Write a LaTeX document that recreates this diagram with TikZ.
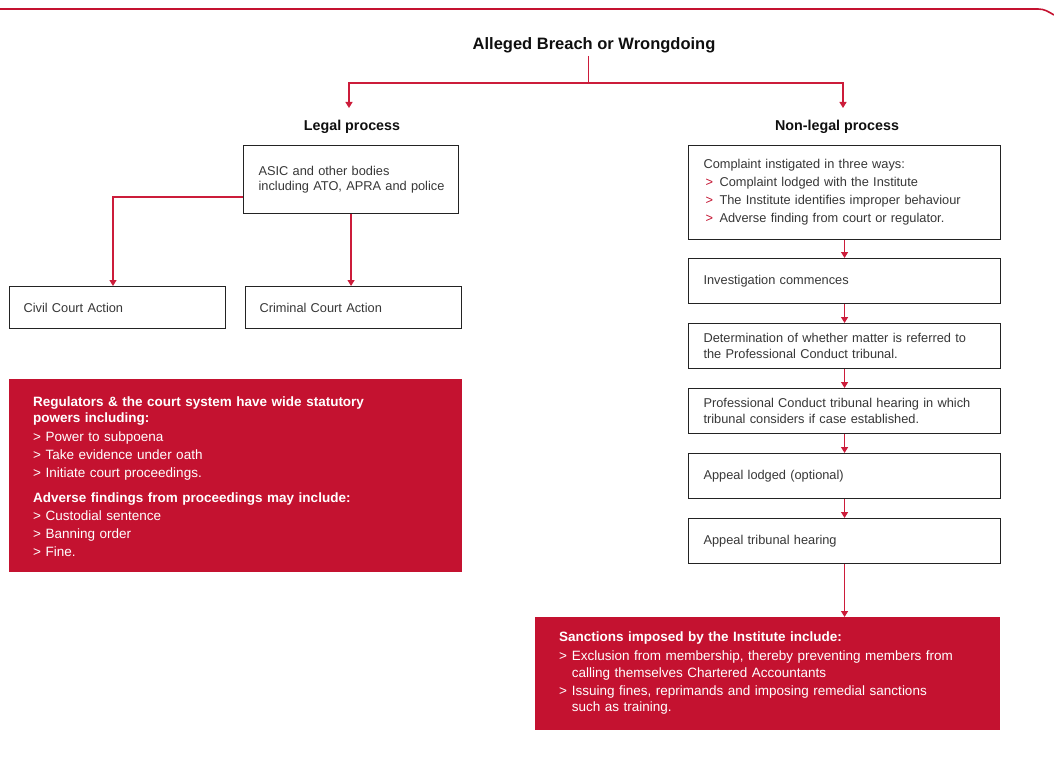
\documentclass[tikz,border=0pt]{standalone}
\usepackage{fontspec}
\setmainfont{Liberation Sans}
\usetikzlibrary{arrows.meta}
\definecolor{crim}{RGB}{196,18,48}
\definecolor{conncol}{RGB}{204,28,58}
\definecolor{boxline}{RGB}{35,35,35}
\definecolor{txt}{RGB}{55,55,55}
\definecolor{headtxt}{RGB}{15,15,15}
\begin{document}
\begin{tikzpicture}[x=1pt,y=-1pt,
  wbox/.style={draw=boxline, line width=1.1pt, fill=white, anchor=north west,
    inner xsep=15pt, inner ysep=0pt, text=txt, align=left, text width=#1,
    font=\fontsize{12.8}{16.5}\selectfont},
  redbox/.style={fill=crim, draw=none, anchor=north west, inner sep=0pt},
  redtxt/.style={anchor=north west, inner sep=0pt, text=white, align=left,
    text width=#1, font=\fontsize{13.5}{18}\selectfont},
  head/.style={font=\bfseries\fontsize{14.3}{17}\selectfont, text=headtxt, inner sep=2pt},
  conn/.style={draw=conncol, line width=1.2pt},
  arr/.style={conn, -{Triangle[width=7pt,length=6pt]}}
]
\useasboundingbox (0,0) rectangle (1054,762);

% top border line
\draw[crim, line width=1.6pt] (0,9) -- (1038,9) to[out=0,in=150] (1054,15);

% title and headers
\node[font=\bfseries\fontsize{16.5}{20}\selectfont, text=headtxt, inner sep=3pt] (title) at (594,45) {Alleged Breach or Wrongdoing};
\node[head] (lp) at (352,127) {Legal process};
\node[head] (nlp) at (837,127) {Non-legal process};

\coordinate (split) at (588,83);
\coordinate (lA) at (349,108);
\coordinate (nA) at (843,108);
\draw[conn, line width=0.9pt] (title.south -| split) -- (split);
\draw[arr] (split) -| (lA);
\draw[arr] (split) -| (nA);

% legal process
\node[wbox=185pt, minimum height=68pt, font=\fontsize{12.8}{15}\selectfont] (asic) at (243,145) {\mbox{ASIC and other bodies}\\\mbox{including ATO, APRA and police}};
\node[wbox=188pt, inner xsep=14pt, minimum height=42pt] (civil) at (9,286) {Civil Court Action};
\node[wbox=188pt, inner xsep=14pt, minimum height=42pt] (criminal) at (245,286) {Criminal Court Action};

\coordinate (civtop) at (113,286);
\draw[arr] (asic.west |- 0,197) -| (civtop);
\draw[arr] (asic.south) -- (asic.south |- criminal.north);

% regulators box
\node[redbox, minimum width=453pt, minimum height=193pt] (regbox) at (9,379) {};
\node[redtxt=420pt] (regtxt) at (33,396.5) {%
\textbf{Regulators \& the court system have wide statutory}\\[-2pt]
\textbf{powers including:}\\[1pt]
\makebox[12.5pt][l]{>}Power to subpoena\\
\makebox[12.5pt][l]{>}Take evidence under oath\\
\makebox[12.5pt][l]{>}Initiate court proceedings.\\[7pt]
\textbf{Adverse findings from proceedings may include:}\\
\makebox[12.5pt][l]{>}Custodial sentence\\
\makebox[12.5pt][l]{>}Banning order\\
\makebox[12.5pt][l]{>}Fine.};

% non-legal process
\node[wbox=282pt, minimum height=94pt, font=\fontsize{12.8}{18}\selectfont] (b1) at (688,145) {Complaint instigated in three ways:\\
\makebox[16pt][l]{\hspace{2pt}\textcolor{crim}{>}}Complaint lodged with the Institute\\
\makebox[16pt][l]{\hspace{2pt}\textcolor{crim}{>}}The Institute identifies improper behaviour\\
\makebox[16pt][l]{\hspace{2pt}\textcolor{crim}{>}}Adverse finding from court or regulator.};
\node[wbox=282pt, minimum height=45pt] (b2) at (688,258) {Investigation commences};
\node[wbox=282pt, minimum height=45pt] (b3) at (688,323) {\mbox{Determination of whether matter is referred to}\\the Professional Conduct tribunal.};
\node[wbox=282pt, minimum height=45pt] (b4) at (688,388) {\mbox{Professional Conduct tribunal hearing in which}\\tribunal considers if case established.};
\node[wbox=282pt, minimum height=45pt] (b5) at (688,453) {Appeal lodged (optional)};
\node[wbox=282pt, minimum height=45pt] (b6) at (688,518) {Appeal tribunal hearing};

\draw[arr] (b1.south) -- (b2.north);
\draw[arr] (b2.south) -- (b3.north);
\draw[arr] (b3.south) -- (b4.north);
\draw[arr] (b4.south) -- (b5.north);
\draw[arr] (b5.south) -- (b6.north);

% sanctions box
\node[redbox, minimum width=465pt, minimum height=113pt] (sanc) at (535,617) {};
\node[redtxt=430pt] (sanctxt) at (559,632) {%
\textbf{Sanctions imposed by the Institute include:}\\[1pt]
\makebox[12.7pt][l]{>}Exclusion from membership, thereby preventing members from\\[-1.5pt]
\hspace*{12.7pt}calling themselves Chartered Accountants\\
\makebox[12.7pt][l]{>}Issuing fines, reprimands and imposing remedial sanctions\\[-2pt]
\hspace*{12.7pt}such as training.};
\draw[arr] (b6.south) -- (b6.south |- sanc.north);
\end{tikzpicture}
\end{document}
